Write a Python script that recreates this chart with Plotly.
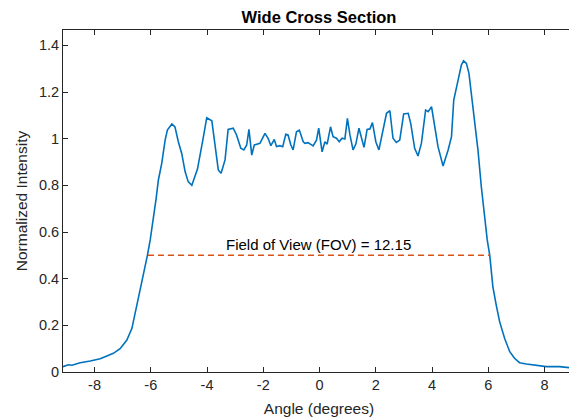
import plotly.graph_objects as go

angle = [-9.12, -8.93, -8.80, -8.51, -8.15, -7.80, -7.56, -7.33, -7.09, -6.85, -6.67, -6.56, -6.44, -6.32,
         -6.12, -6.02, -5.91, -5.81, -5.73, -5.61, -5.49, -5.41, -5.25, -5.14, -5.02, -4.90, -4.78, -4.67,
         -4.54, -4.34, -4.15, -4.01, -3.83, -3.72, -3.60, -3.50, -3.36, -3.25, -3.07, -2.95, -2.80, -2.69,
         -2.59, -2.51, -2.41, -2.32, -2.12, -1.94, -1.83, -1.73, -1.61, -1.53, -1.41, -1.31, -1.20, -1.12,
         -1.02, -0.94, -0.82, -0.72, -0.58, -0.52, -0.41, -0.23, -0.11, -0.03, 0.09, 0.19, 0.27, 0.39,
         0.48, 0.60, 0.70, 0.80, 0.90, 0.99, 1.08, 1.19, 1.29, 1.40, 1.49, 1.58, 1.69, 1.79, 1.88, 2.00,
         2.11, 2.26, 2.38, 2.50, 2.61, 2.73, 2.85, 2.99, 3.15, 3.24, 3.38, 3.50, 3.62, 3.77, 3.86, 3.98,
         4.09, 4.21, 4.39, 4.57, 4.69, 4.77, 4.94, 5.04, 5.12, 5.22, 5.31, 5.40, 5.48, 5.63, 5.75, 5.87,
         5.96, 6.05, 6.16, 6.28, 6.40, 6.58, 6.76, 6.93, 7.11, 7.35, 7.70, 8.06, 8.53, 9.08]
intensity = [0.023, 0.031, 0.029, 0.040, 0.047, 0.057, 0.069, 0.080, 0.100, 0.137, 0.187, 0.250, 0.310, 0.373,
             0.500, 0.566, 0.650, 0.743, 0.823, 0.894, 0.994, 1.037, 1.063, 1.051, 0.987, 0.937, 0.859, 0.816,
             0.800, 0.870, 0.994, 1.090, 1.077, 0.966, 0.866, 0.852, 0.909, 1.040, 1.045, 1.016, 0.959, 0.952,
             0.973, 1.040, 0.930, 0.973, 0.980, 1.023, 1.002, 0.970, 0.997, 0.966, 0.970, 0.966, 1.019, 1.016,
             0.973, 0.952, 1.030, 1.037, 0.987, 0.980, 0.983, 0.969, 0.994, 1.045, 0.944, 0.987, 0.977, 1.051,
             1.009, 1.002, 0.987, 1.002, 0.999, 1.087, 1.016, 0.952, 0.977, 1.045, 1.002, 0.963, 1.040, 1.042,
             1.069, 0.987, 0.952, 1.037, 1.109, 1.120, 1.002, 0.984, 0.994, 1.106, 1.109, 1.066, 0.959, 0.926,
             0.980, 1.123, 1.116, 1.137, 1.045, 0.966, 0.883, 0.952, 1.009, 1.166, 1.260, 1.316, 1.334, 1.323,
             1.280, 1.195, 1.116, 0.952, 0.794, 0.656, 0.566, 0.500, 0.366, 0.287, 0.216, 0.144, 0.087, 0.059,
             0.040, 0.034, 0.027, 0.023, 0.023, 0.016]

fov_x = [-6.10, 6.05]
fov_y = [0.5, 0.5]
fov_label = "Field of View (FOV) = 12.15"

x_ticks = [-8, -6, -4, -2, 0, 2, 4, 6, 8]
x_tick_text = ["-8", "-6", "-4", "-2", "0", "2", "4", "6", "8"]
y_ticks = [0, 0.2, 0.4, 0.6, 0.8, 1.0, 1.2, 1.4]
y_tick_text = ["0", "0.2", "0.4", "0.6", "0.8", "1", "1.2", "1.4"]

FONT = "Liberation Sans, Arial, sans-serif"
W, H = 569, 412  # page body has an 8px margin

fig = go.Figure()
fig.add_trace(go.Scatter(x=angle, y=intensity, mode="lines",
                         line=dict(color="#0072BD", width=1.6), showlegend=False))
fig.add_trace(go.Scatter(x=fov_x, y=fov_y, mode="lines",
                         line=dict(color="#D95319", width=1.5, dash="6px,4px"), showlegend=False))
fig.add_annotation(x=(fov_x[0] + fov_x[1]) / 2, y=fov_y[0], text=fov_label, showarrow=False,
                   yanchor="bottom", yshift=0, font=dict(size=15, color="#000000", family=FONT))

axis_common = dict(showgrid=False, zeroline=False, showline=True, linecolor="#262626", linewidth=0.8,
                   mirror="allticks", ticks="inside", ticklen=5, tickcolor="#262626", tickwidth=0.8,
                   automargin=False,
                   tickfont=dict(size=14.5, color="#262626", family=FONT))

fig.update_layout(
    width=W, height=H,
    margin=dict(l=55, r=1.5, t=22, b=48),
    paper_bgcolor="white", plot_bgcolor="white",
    title=dict(text="<b>Wide Cross Section</b>", x=311 / W, xanchor="center",
               y=1 - 9 / H, yanchor="middle",
               font=dict(size=16.5, color="#000000", family=FONT)),
    xaxis=dict(range=[-9.12, 9.08], tickvals=x_ticks, ticktext=x_tick_text,
               title=dict(text="Angle (degrees)", standoff=10,
                          font=dict(size=15.5, color="#262626", family=FONT)),
               **axis_common),
    yaxis=dict(range=[0, 1.466], tickvals=y_ticks, ticktext=y_tick_text,
               title=dict(text="Normalized Intensity", standoff=7,
                          font=dict(size=15.5, color="#262626", family=FONT)),
               **axis_common),
)

fig.write_html("out.html")
